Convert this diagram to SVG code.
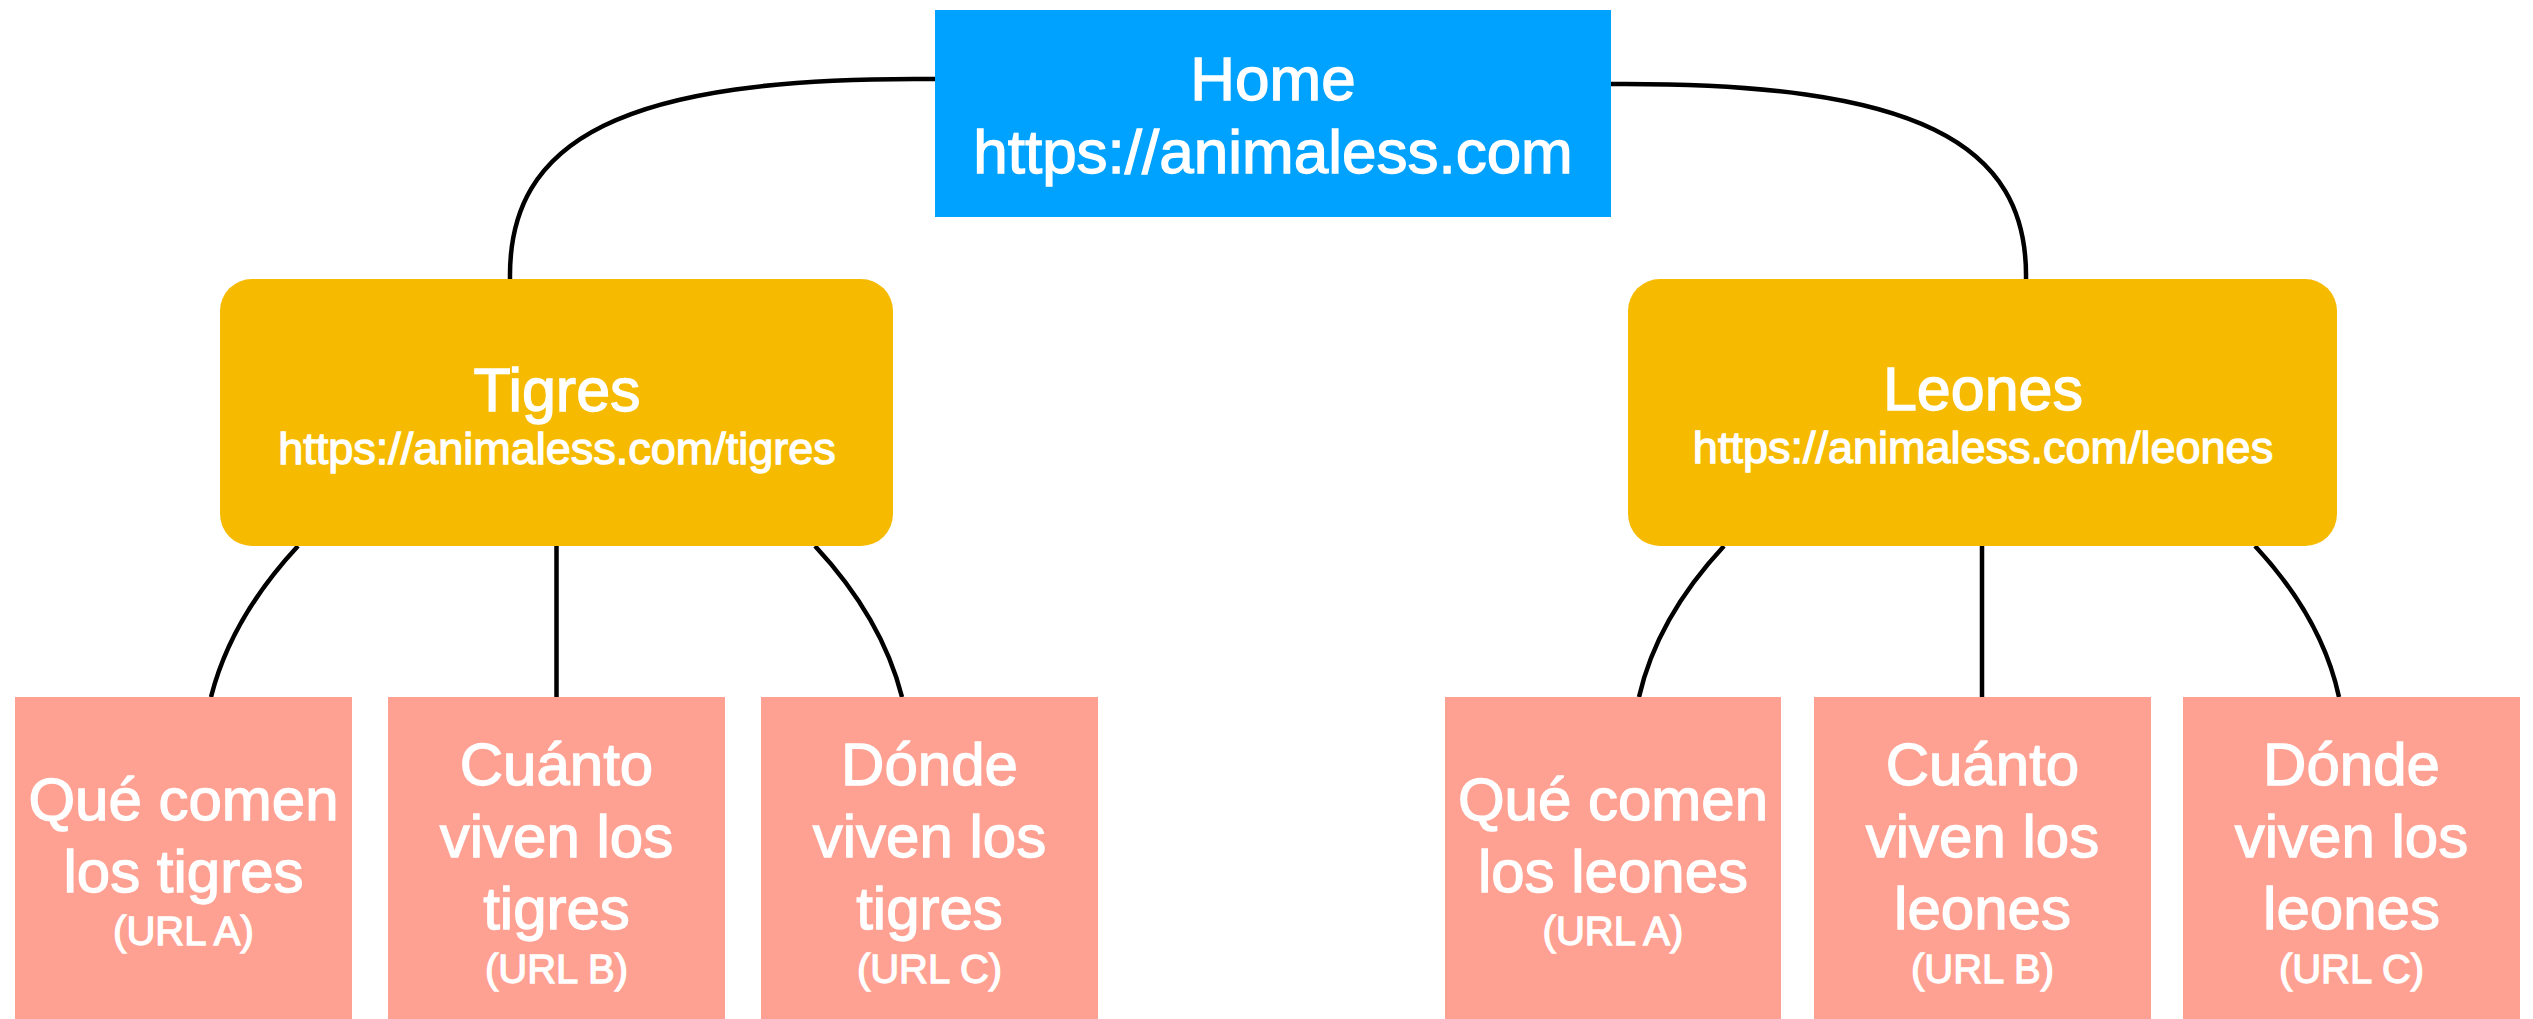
<svg xmlns="http://www.w3.org/2000/svg" width="2533" height="1019" viewBox="0 0 2533 1019">
<style>
text{font-family:"Liberation Sans",Arial,sans-serif;fill:#fff;stroke:#fff;stroke-width:1.3px;text-anchor:middle}
.t1{font-size:62px}
.t2{font-size:61px}
.u{font-size:45px}
.l{font-size:60px}
.s{font-size:40px}
.home{fill:#00A2FF}
.sec{fill:#F6BB00}
.leaf{fill:#FFA192}
.c{fill:none;stroke:#000;stroke-width:4.5}
</style>
<rect width="2533" height="1019" fill="#fff"/>
<g id="connectors">
<path class="c" d="M935,79 C620,76 508,140 510,279"/>
<path class="c" d="M1611,84 C1918,82 2028,143 2026,279"/>
<path class="c" d="M298,546 Q231,618 211,697"/>
<path class="c" d="M556.5,546 L556.5,697"/>
<path class="c" d="M815,546 Q882,618 902,697"/>
<path class="c" d="M1724,546 Q1657,618 1639,697"/>
<path class="c" d="M1982,546 L1982,697"/>
<path class="c" d="M2255,546 Q2322,618 2339,697"/>
</g>
<g id="home">
<rect class="home" x="935" y="10" width="676" height="207"/>
<text class="t1" x="1273" y="100">Home</text>
<text class="t1" x="1273" y="173">https://animaless.com</text>
</g>
<g id="tigres">
<rect class="sec" x="220" y="279" width="673" height="267" rx="32"/>
<text class="t2" x="557" y="411">Tigres</text>
<text class="u" x="557" y="464">https://animaless.com/tigres</text>
</g>
<g id="leones">
<rect class="sec" x="1628" y="279" width="709" height="267" rx="32"/>
<text class="t2" x="1983" y="410">Leones</text>
<text class="u" x="1983" y="463">https://animaless.com/leones</text>
</g>
<g id="tigres-a">
<rect class="leaf" x="15" y="697" width="337" height="322"/>
<text class="l" x="183.5" y="820">Qué comen</text>
<text class="l" x="183.5" y="892">los tigres</text>
<text class="s" x="183.5" y="945">(URL A)</text>
</g>
<g id="tigres-b">
<rect class="leaf" x="388" y="697" width="337" height="322"/>
<text class="l" x="556.5" y="785">Cuánto</text>
<text class="l" x="556.5" y="857">viven los</text>
<text class="l" x="556.5" y="929">tigres</text>
<text class="s" x="556.5" y="983">(URL B)</text>
</g>
<g id="tigres-c">
<rect class="leaf" x="761" y="697" width="337" height="322"/>
<text class="l" x="929.5" y="785">Dónde</text>
<text class="l" x="929.5" y="857">viven los</text>
<text class="l" x="929.5" y="929">tigres</text>
<text class="s" x="929.5" y="983">(URL C)</text>
</g>
<g id="leones-a">
<rect class="leaf" x="1445" y="697" width="336" height="322"/>
<text class="l" x="1613" y="820">Qué comen</text>
<text class="l" x="1613" y="892">los leones</text>
<text class="s" x="1613" y="945">(URL A)</text>
</g>
<g id="leones-b">
<rect class="leaf" x="1814" y="697" width="337" height="322"/>
<text class="l" x="1982.5" y="785">Cuánto</text>
<text class="l" x="1982.5" y="857">viven los</text>
<text class="l" x="1982.5" y="929">leones</text>
<text class="s" x="1982.5" y="983">(URL B)</text>
</g>
<g id="leones-c">
<rect class="leaf" x="2183" y="697" width="337" height="322"/>
<text class="l" x="2351.5" y="785">Dónde</text>
<text class="l" x="2351.5" y="857">viven los</text>
<text class="l" x="2351.5" y="929">leones</text>
<text class="s" x="2351.5" y="983">(URL C)</text>
</g>
</svg>
